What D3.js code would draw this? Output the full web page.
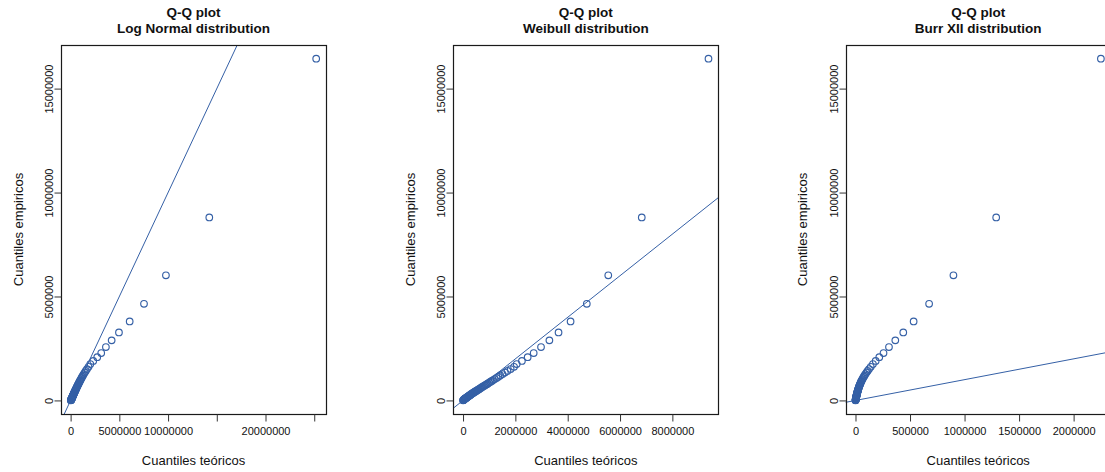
<!DOCTYPE html>
<html>
<head>
<meta charset="utf-8">
<script src="https://cdn.jsdelivr.net/npm/d3@7"></script>
<style>
  body { margin: 0; background: #ffffff; }
  svg { display: block; font-family: "Liberation Sans", Arial, sans-serif; }
</style>
</head>
<body>
<svg id="chart" width="1105" height="472"></svg>
<script>
    "use strict";

    // values in millions
    var UNIT = 1e6;

    // empirical quantiles (sorted, descending)
    var empirical = [16.44, 8.80, 6.02, 4.65, 3.80, 3.27, 2.89, 2.57, 2.28, 2.08, 1.90, 1.75,
        1.62, 1.51, 1.42, 1.34, 1.27, 1.20, 1.14, 1.08, 1.03, 0.98,
        0.94, 0.90, 0.86, 0.82, 0.78, 0.75, 0.72, 0.69, 0.66, 0.63,
        0.60, 0.57, 0.54, 0.52, 0.50, 0.47, 0.45, 0.43, 0.41, 0.39,
        0.37, 0.35, 0.33, 0.31, 0.29, 0.27, 0.25, 0.24, 0.22, 0.21,
        0.19, 0.18, 0.16, 0.15, 0.13, 0.12, 0.11, 0.10, 0.09, 0.08,
        0.07, 0.06, 0.05, 0.04, 0.03, 0.02, 0.01, 0.005];

    // theoretical quantiles per fitted distribution
    var lognormalQ = [25.2, 14.23, 9.78, 7.53, 6.06, 4.96, 4.21, 3.62, 3.14, 2.73, 2.32, 2.02,
        1.84, 1.68, 1.55, 1.44, 1.35, 1.27, 1.19, 1.12, 1.06, 1.01,
        0.96, 0.91, 0.87, 0.83, 0.79, 0.75, 0.72, 0.69, 0.66, 0.63,
        0.60, 0.57, 0.54, 0.52, 0.49, 0.47, 0.45, 0.43, 0.41, 0.39,
        0.37, 0.35, 0.33, 0.31, 0.30, 0.28, 0.26, 0.25, 0.23, 0.22,
        0.21, 0.19, 0.18, 0.17, 0.15, 0.14, 0.13, 0.12, 0.11, 0.10,
        0.09, 0.08, 0.07, 0.06, 0.05, 0.04, 0.03, 0.02];

    var weibullQ = [9.38, 6.83, 5.55, 4.73, 4.11, 3.65, 3.30, 2.98, 2.70, 2.47, 2.25, 2.05,
        1.95, 1.82, 1.70, 1.60, 1.51, 1.42, 1.35, 1.28, 1.21, 1.15,
        1.10, 1.05, 1.00, 0.95, 0.91, 0.87, 0.83, 0.79, 0.75, 0.71,
        0.68, 0.64, 0.61, 0.58, 0.55, 0.52, 0.49, 0.47, 0.44, 0.42,
        0.39, 0.37, 0.35, 0.32, 0.30, 0.28, 0.26, 0.25, 0.23, 0.21,
        0.19, 0.18, 0.16, 0.15, 0.13, 0.12, 0.10, 0.09, 0.08, 0.07,
        0.06, 0.05, 0.04, 0.03, 0.02, 0.015, 0.008, 0.003];

    var burrQ = [2.25, 1.29, 0.898, 0.675, 0.533, 0.438, 0.365, 0.307, 0.257, 0.218, 0.185, 0.160,
        0.140, 0.124, 0.111, 0.100, 0.091, 0.083, 0.076, 0.069, 0.064, 0.059,
        0.055, 0.051, 0.048, 0.045, 0.042, 0.039, 0.037, 0.035, 0.033, 0.031,
        0.029, 0.027, 0.025, 0.024, 0.023, 0.021, 0.020, 0.019, 0.018, 0.017,
        0.016, 0.015, 0.014, 0.013, 0.012, 0.011, 0.010, 0.0095, 0.009, 0.0085,
        0.008, 0.0075, 0.007, 0.0065, 0.006, 0.0055, 0.005, 0.0045, 0.004, 0.0035,
        0.003, 0.0025, 0.002, 0.0016, 0.0012, 0.0008, 0.0005, 0.0002];

    var titles = ["Log Normal distribution", "Weibull distribution", "Burr XII distribution"];

    var yTicks = [0, 5000000, 10000000, 15000000];

    var lnTicks = [0, 5000000, 10000000, 15000000, 20000000, 25000000];
    var lnTickLabels = ["0", "5000000", "10000000", "", "20000000", ""];
    var wbTicks = [0, 2000000, 4000000, 6000000, 8000000];
    var wbTickLabels = ["0", "2000000", "4000000", "6000000", "8000000"];
    var brTicks = [0, 500000, 1000000, 1500000, 2000000];
    var brTickLabels = ["0", "500000", "1000000", "1500000", "2000000"];

    var panels = [
        { title: titles[0], theo: lognormalQ, ticks: lnTicks, labels: lnTickLabels },
        { title: titles[1], theo: weibullQ, ticks: wbTicks, labels: wbTickLabels },
        { title: titles[2], theo: burrQ, ticks: brTicks, labels: brTickLabels }
    ];

    (function() {
        var pointColor = "#3560a6";
        var boxLefts = [61, 453.3, 845.7];
        var boxW = 265, boxTop = 45, boxBottom = 414;

        var svg = d3.select("#chart");

        function padded(vals) {
            var ext = d3.extent(vals, function(d) { return d * UNIT; });
            var r = ext[1] - ext[0];
            return [ext[0] - 0.04 * r, ext[1] + 0.04 * r];
        }

        panels.forEach(function(p, k) {
            var left = boxLefts[k];
            var cx = left + boxW / 2;
            var g = svg.append("g");

            var x = d3.scaleLinear().domain(padded(p.theo)).range([left, left + boxW]);
            var y = d3.scaleLinear().domain(padded(empirical)).range([boxBottom, boxTop]);

            // titles
            g.append("text").attr("x", cx).attr("y", 17).attr("text-anchor", "middle")
                .attr("font-size", "13.5px").attr("font-weight", "bold").attr("fill", "#111")
                .text("Q-Q plot");
            g.append("text").attr("x", cx).attr("y", 33).attr("text-anchor", "middle")
                .attr("font-size", "13.5px").attr("font-weight", "bold").attr("fill", "#111")
                .text(p.title);

            // clip for reference line
            var clipId = "clip" + k;
            svg.append("clipPath").attr("id", clipId).append("rect")
                .attr("x", left).attr("y", boxTop).attr("width", boxW).attr("height", boxBottom - boxTop);

            var lo = Math.min(x.domain()[0], y.domain()[0]);
            var hi = Math.max(x.domain()[1], y.domain()[1]);
            g.append("line")
                .attr("clip-path", "url(#" + clipId + ")")
                .attr("x1", x(lo)).attr("y1", y(lo))
                .attr("x2", x(hi)).attr("y2", y(hi))
                .attr("stroke", pointColor).attr("stroke-width", 1);

            // points
            g.selectAll("circle.pt")
                .data(empirical)
                .enter()
                .append("circle")
                .attr("class", "pt")
                .attr("cx", function(d, i) { return x(p.theo[i] * UNIT); })
                .attr("cy", function(d) { return y(d * UNIT); })
                .attr("r", 3.3)
                .attr("fill", "none")
                .attr("stroke", pointColor)
                .attr("stroke-width", 1.15);

            // box
            g.append("rect")
                .attr("x", Math.round(left) + 0.5).attr("y", boxTop + 0.5)
                .attr("width", boxW).attr("height", boxBottom - boxTop)
                .attr("fill", "none").attr("stroke", "#1a1a1a").attr("stroke-width", 1.2);

            // x axis
            var xAxis = d3.axisBottom(x)
                .tickValues(p.ticks)
                .tickSize(7)
                .tickPadding(6)
                .tickFormat(function(d, i) { return p.labels[i]; });
            var xg = g.append("g").attr("transform", "translate(0," + (boxBottom + 0.5) + ")").call(xAxis);
            xg.select(".domain").remove();
            xg.selectAll("line").attr("stroke", "#333");
            xg.selectAll("text").attr("font-size", "11px").attr("fill", "#111")
                .attr("font-family", "Liberation Sans, Arial, sans-serif");

            // y axis
            var yAxis = d3.axisLeft(y).tickValues(yTicks).tickSize(7).tickFormat(d3.format("d"));
            var yg = g.append("g").attr("transform", "translate(" + (Math.round(left) + 0.5) + ",0)").call(yAxis);
            yg.select(".domain").remove();
            yg.selectAll("line").attr("stroke", "#333");
            yg.selectAll("text")
                .attr("font-size", "11px").attr("fill", "#111")
                .attr("font-family", "Liberation Sans, Arial, sans-serif")
                .attr("text-anchor", "middle")
                .attr("x", null).attr("dy", null)
                .attr("transform", "translate(-8.5,0) rotate(-90)");

            // axis labels
            g.append("text").attr("x", cx).attr("y", 464.5).attr("text-anchor", "middle")
                .attr("font-size", "13px").attr("fill", "#111")
                .text("Cuantiles teóricos");
            g.append("text")
                .attr("transform", "translate(" + (left - 38.5) + "," + ((boxTop + boxBottom) / 2) + ") rotate(-90)")
                .attr("text-anchor", "middle")
                .attr("font-size", "13px").attr("fill", "#111")
                .text("Cuantiles empiricos");
        });
    })();
</script>
</body>
</html>
